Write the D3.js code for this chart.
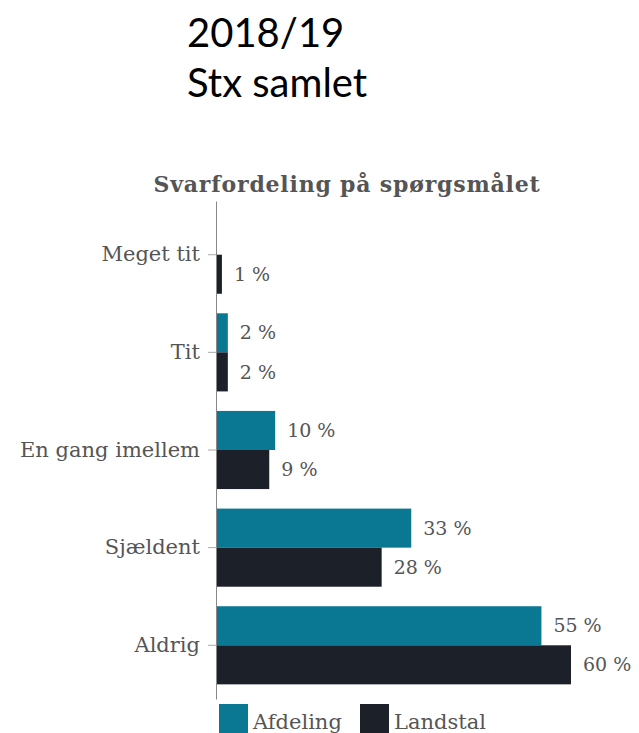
<!DOCTYPE html>
<html>
<head>
<meta charset="utf-8">
<script src="https://cdn.jsdelivr.net/npm/d3@7"></script>
<style>
  html, body { margin: 0; padding: 0; background: #fff; }
  svg { display: block; }
</style>
</head>
<body>
<div id="chart"></div>
<script>
// data
const headerLines = ["2018/19", "Stx samlet"];
const chartTitle = "Svarfordeling på spørgsmålet";
const categories = ["Meget tit", "Tit", "En gang imellem", "Sjældent", "Aldrig"];
const seriesNames = ["Afdeling", "Landstal"];
const afdeling = [null, 2, 10, 33, 55];
const landstal = [1, 2, 9, 28, 60];

const COLORS = { Afdeling: "#0b7893", Landstal: "#1b2029" };
const TEXT = "#555";
const SERIF = "'DejaVu Serif', 'Liberation Serif', serif";

const W = 639, H = 733;
const svg = d3.select("#chart").append("svg")
  .attr("width", W).attr("height", H);

// big header text
svg.append("g").selectAll("text")
  .data(headerLines)
  .enter().append("text")
  .attr("x", 187)
  .attr("y", (d, i) => 47 + i * 50)
  .attr("font-family", "Lato, 'Open Sans', sans-serif")
  .attr("font-size", 40)
  .attr("fill", "#000")
  .text(d => d);

svg.append("text")
  .attr("x", 347).attr("y", 192)
  .attr("text-anchor", "middle")
  .attr("font-family", SERIF)
  .attr("font-weight", "bold")
  .attr("font-size", 22)
  .attr("letter-spacing", 0.8)
  .attr("fill", TEXT)
  .text(chartTitle);

const x = d3.scaleLinear().domain([0, 60]).range([216, 571]);
const y = d3.scaleBand().domain(categories).range([201, 699])
  .paddingInner(0.2).paddingOuter(0.15);
const sub = d3.scaleBand().domain(seriesNames).range([0, y.bandwidth()]);

const rows = categories.map((c, i) => ({
  cat: c,
  vals: [
    { s: "Afdeling", v: afdeling[i] },
    { s: "Landstal", v: landstal[i] }
  ].filter(d => d.v != null)
}));

const groups = svg.append("g").selectAll("g")
  .data(rows)
  .enter().append("g")
  .attr("transform", d => `translate(0,${y(d.cat)})`);

groups.selectAll("rect")
  .data(d => d.vals)
  .enter().append("rect")
  .attr("x", x(0))
  .attr("y", d => sub(d.s))
  .attr("width", d => x(d.v) - x(0))
  .attr("height", sub.bandwidth())
  .attr("fill", d => COLORS[d.s]);

groups.selectAll("text")
  .data(d => d.vals)
  .enter().append("text")
  .attr("x", d => x(d.v) + 12)
  .attr("y", d => sub(d.s) + sub.bandwidth() / 2)
  .attr("dy", "0.35em")
  .attr("font-family", SERIF)
  .attr("font-size", 19)
  .attr("fill", TEXT)
  .text(d => `${d.v} %`);

// category axis
const axis = svg.append("g")
  .attr("transform", `translate(${x(0)},0)`)
  .call(d3.axisLeft(y).tickSize(8).tickSizeOuter(0).tickPadding(8));
axis.select(".domain").attr("stroke", "#888");
axis.selectAll(".tick line").attr("stroke", "#aaa");
axis.selectAll(".tick text")
  .attr("font-family", SERIF)
  .attr("font-size", 21)
  .attr("fill", TEXT);

// legend
const legend = svg.append("g").attr("transform", "translate(219,704)");
const legendX = [0, 141];
const items = legend.selectAll("g")
  .data(seriesNames)
  .enter().append("g")
  .attr("transform", (d, i) => `translate(${legendX[i]},0)`);
items.append("rect")
  .attr("width", 29).attr("height", 32)
  .attr("fill", d => COLORS[d]);
items.append("text")
  .attr("x", 34).attr("y", 25)
  .attr("font-family", SERIF)
  .attr("font-size", 21)
  .attr("fill", TEXT)
  .text(d => d);
</script>
</body>
</html>
